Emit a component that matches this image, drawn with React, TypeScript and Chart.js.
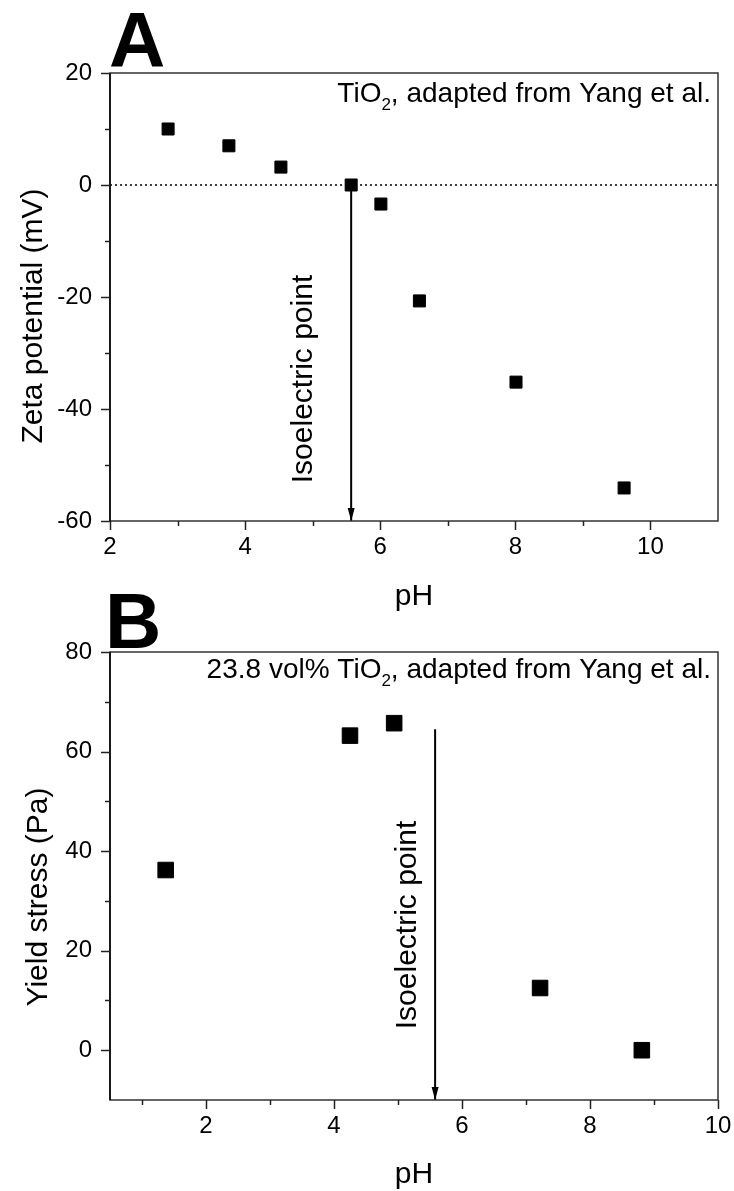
import React, { useEffect, useRef } from 'react';
import { Chart, registerables } from 'chart.js';

Chart.register(...registerables);

const FONT = '"Liberation Sans", Arial, Helvetica, sans-serif';

// ---- Panel A: zeta potential vs pH ----
const phA = [2.86, 3.76, 4.53, 5.57, 6.01, 6.58, 8.01, 9.61];
const zetaA = [10, 7, 3.2, 0, -3.4, -20.7, -35.2, -54.1];
const xRangeA = [2, 11];
const yRangeA = [-60, 20];
const xMajorA = [2, 4, 6, 8, 10];
const xMinorA = [3, 5, 7, 9];
const yMajorA = [-60, -40, -20, 0, 20];
const yMinorA = [-50, -30, -10, 10];
const zeroLineA = [0, 0];
const arrowPhA = 5.57;
const arrowYA = [0, -60];

// ---- Panel B: yield stress vs pH ----
const phB = [1.37, 4.25, 4.94, 7.22, 8.81];
const yieldB = [36.2, 63.2, 65.7, 12.5, 0];
const xRangeB = [0.5, 10];
const yRangeB = [-10, 80];
const xMajorB = [2, 4, 6, 8, 10];
const xMinorB = [1, 3, 5, 7, 9];
const yMajorB = [0, 20, 40, 60, 80];
const yMinorB = [10, 30, 50, 70];
const arrowPhB = 5.58;
const arrowYB = [64.5, -10];

const decorPlugin = {
  id: 'decor',
  afterDraw(chart: any, _args: any, o: any) {
    const { ctx, chartArea: a, scales } = chart;
    const xs = scales.x;
    const ys = scales.y;
    ctx.save();
    // frame
    ctx.strokeStyle = '#333';
    ctx.lineWidth = 1.5;
    ctx.strokeRect(a.left, a.top, a.right - a.left, a.bottom - a.top);
    ctx.strokeStyle = '#000';
    ctx.beginPath();
    ctx.moveTo(a.left, a.top);
    ctx.lineTo(a.left, a.bottom);
    ctx.stroke();
    // ticks
    ctx.strokeStyle = '#222';
    ctx.lineWidth = 1.5;
    const xt = (vals: number[], len: number) =>
      vals.forEach((v) => {
        const px = Math.round(xs.getPixelForValue(v)) + 0.5;
        ctx.beginPath();
        ctx.moveTo(px, a.bottom);
        ctx.lineTo(px, a.bottom + len);
        ctx.stroke();
      });
    const yt = (vals: number[], len: number) =>
      vals.forEach((v) => {
        const py = Math.round(ys.getPixelForValue(v)) + 0.5;
        ctx.beginPath();
        ctx.moveTo(a.left, py);
        ctx.lineTo(a.left - len, py);
        ctx.stroke();
      });
    xt(o.xMajor, 9);
    xt(o.xMinor, 5);
    yt(o.yMajor, 9);
    yt(o.yMinor, 5);
    // arrowhead
    const meta = chart.getDatasetMeta(o.arrowIndex);
    const tip = meta.data[meta.data.length - 1];
    if (tip) {
      ctx.fillStyle = '#000';
      ctx.beginPath();
      ctx.moveTo(tip.x, tip.y);
      ctx.lineTo(tip.x - 3.5, tip.y - 13);
      ctx.lineTo(tip.x + 3.5, tip.y - 13);
      ctx.closePath();
      ctx.fill();
    }
    ctx.fillStyle = '#000';
    // panel letter
    ctx.font = `bold 78px ${FONT}`;
    ctx.textAlign = 'left';
    ctx.textBaseline = 'alphabetic';
    ctx.fillText(o.letter.text, o.letter.x, o.letter.y);
    // annotation with subscript
    const an = o.note;
    const big = `28px ${FONT}`;
    const small = `17px ${FONT}`;
    ctx.font = big;
    const w1 = ctx.measureText(an.pre).width;
    const w3 = ctx.measureText(an.post).width;
    ctx.font = small;
    const w2 = ctx.measureText(an.sub).width;
    let sx = an.right - (w1 + w2 + w3);
    ctx.font = big;
    ctx.fillText(an.pre, sx, an.y);
    sx += w1;
    ctx.font = small;
    ctx.fillText(an.sub, sx, an.y + 8);
    sx += w2;
    ctx.font = big;
    ctx.fillText(an.post, sx, an.y);
    // rotated texts
    const rot = (text: string, x: number, y: number, size: number) => {
      ctx.save();
      ctx.translate(x, y);
      ctx.rotate(-Math.PI / 2);
      ctx.font = `${size}px ${FONT}`;
      ctx.textAlign = 'center';
      ctx.textBaseline = 'alphabetic';
      ctx.fillText(text, 0, 0);
      ctx.restore();
    };
    rot('Isoelectric point', o.iso.x, o.iso.y, 30);
    rot(o.yTitle.text, o.yTitle.x, o.yTitle.y, 30);
    ctx.font = `30px ${FONT}`;
    ctx.textAlign = 'center';
    ctx.fillText(o.xTitle.text, o.xTitle.x, o.xTitle.y);
    ctx.restore();
  },
};

function makeConfig(p: any): any {
  return {
    type: 'scatter',
    data: { datasets: p.datasets },
    plugins: [decorPlugin],
    options: {
      responsive: false,
      animation: false,
      events: [],
      layout: { padding: { top: p.padTop, right: 16, left: 0, bottom: 0 } },
      plugins: {
        legend: { display: false },
        tooltip: { enabled: false },
        decor: p.decor,
      },
      scales: {
        x: {
          type: 'linear',
          min: p.xRange[0],
          max: p.xRange[1],
          afterFit: (s: any) => {
            s.height = p.xHeight;
            s.paddingLeft = 0;
            s.paddingRight = 0;
          },
          afterBuildTicks: (s: any) => {
            s.ticks = p.xMajor.map((v: number) => ({ value: v }));
          },
          grid: { display: true, drawOnChartArea: false, drawTicks: false },
          border: { display: false },
          ticks: { color: '#000', font: { family: FONT, size: 24 }, padding: 12, maxRotation: 0, autoSkip: false },
        },
        y: {
          type: 'linear',
          min: p.yRange[0],
          max: p.yRange[1],
          afterFit: (s: any) => {
            s.width = 110;
            s.paddingTop = 0;
            s.paddingBottom = 0;
          },
          afterBuildTicks: (s: any) => {
            s.ticks = p.yMajor.map((v: number) => ({ value: v }));
          },
          grid: { display: true, drawOnChartArea: false, drawTicks: false },
          border: { display: false },
          ticks: { color: '#000', font: { family: FONT, size: 24 }, padding: 18, autoSkip: false },
        },
      },
    },
  };
}

export default function App() {
  const refA = useRef<HTMLCanvasElement>(null);
  const refB = useRef<HTMLCanvasElement>(null);

  useEffect(() => {
    const chartA = new Chart(
      refA.current as HTMLCanvasElement,
      makeConfig({
        padTop: 73,
        xHeight: 99,
        xRange: xRangeA,
        yRange: yRangeA,
        xMajor: xMajorA,
        yMajor: yMajorA,
        datasets: [
          {
            label: 'TiO2 zeta potential',
            data: phA.map((x, i) => ({ x, y: zetaA[i] })),
            pointStyle: 'rect',
            pointRadius: 8.5,
            pointBackgroundColor: '#000',
            pointBorderColor: '#000',
            pointBorderWidth: 1,
            showLine: false,
          },
          {
            label: 'zero',
            data: xRangeA.map((x, i) => ({ x, y: zeroLineA[i] })),
            showLine: true,
            borderColor: '#000',
            borderWidth: 1.3,
            borderDash: [2, 3],
            pointRadius: 0,
          },
          {
            label: 'arrow',
            data: arrowYA.map((y) => ({ x: arrowPhA, y })),
            showLine: true,
            borderColor: '#000',
            borderWidth: 2,
            pointRadius: 0,
          },
        ],
        decor: {
          xMajor: xMajorA,
          xMinor: xMinorA,
          yMajor: yMajorA,
          yMinor: yMinorA,
          arrowIndex: 2,
          letter: { text: 'A', x: 109, y: 67 },
          note: { pre: 'TiO', sub: '2', post: ', adapted from Yang et al.', right: 711, y: 102 },
          iso: { x: 312, y: 379 },
          yTitle: { text: 'Zeta potential (mV)', x: 42, y: 316 },
          xTitle: { text: 'pH', x: 414, y: 605 },
        },
      })
    );
    const chartB = new Chart(
      refB.current as HTMLCanvasElement,
      makeConfig({
        padTop: 92,
        xHeight: 91,
        xRange: xRangeB,
        yRange: yRangeB,
        xMajor: xMajorB,
        yMajor: yMajorB,
        datasets: [
          {
            label: 'Yield stress',
            data: phB.map((x, i) => ({ x, y: yieldB[i] })),
            pointStyle: 'rect',
            pointRadius: 11,
            pointBackgroundColor: '#000',
            pointBorderColor: '#000',
            pointBorderWidth: 1,
            showLine: false,
          },
          {
            label: 'arrow',
            data: arrowYB.map((y) => ({ x: arrowPhB, y })),
            showLine: true,
            borderColor: '#000',
            borderWidth: 2,
            pointRadius: 0,
          },
        ],
        decor: {
          xMajor: xMajorB,
          xMinor: xMinorB,
          yMajor: yMajorB,
          yMinor: yMinorB,
          arrowIndex: 1,
          letter: { text: 'B', x: 105, y: 88 },
          note: { pre: '23.8 vol% TiO', sub: '2', post: ', adapted from Yang et al.', right: 711, y: 118 },
          iso: { x: 416, y: 365 },
          yTitle: { text: 'Yield stress (Pa)', x: 47, y: 337 },
          xTitle: { text: 'pH', x: 414, y: 623 },
        },
      })
    );
    return () => {
      chartA.destroy();
      chartB.destroy();
    };
  }, []);

  return (
    <div style={{ position: 'absolute', left: 0, top: 0, width: 734, height: 1191 }}>
      <canvas ref={refA} width={734} height={620} style={{ position: 'absolute', left: 0, top: 0 }} />
      <canvas ref={refB} width={734} height={631} style={{ position: 'absolute', left: 0, top: 560 }} />
    </div>
  );
}
